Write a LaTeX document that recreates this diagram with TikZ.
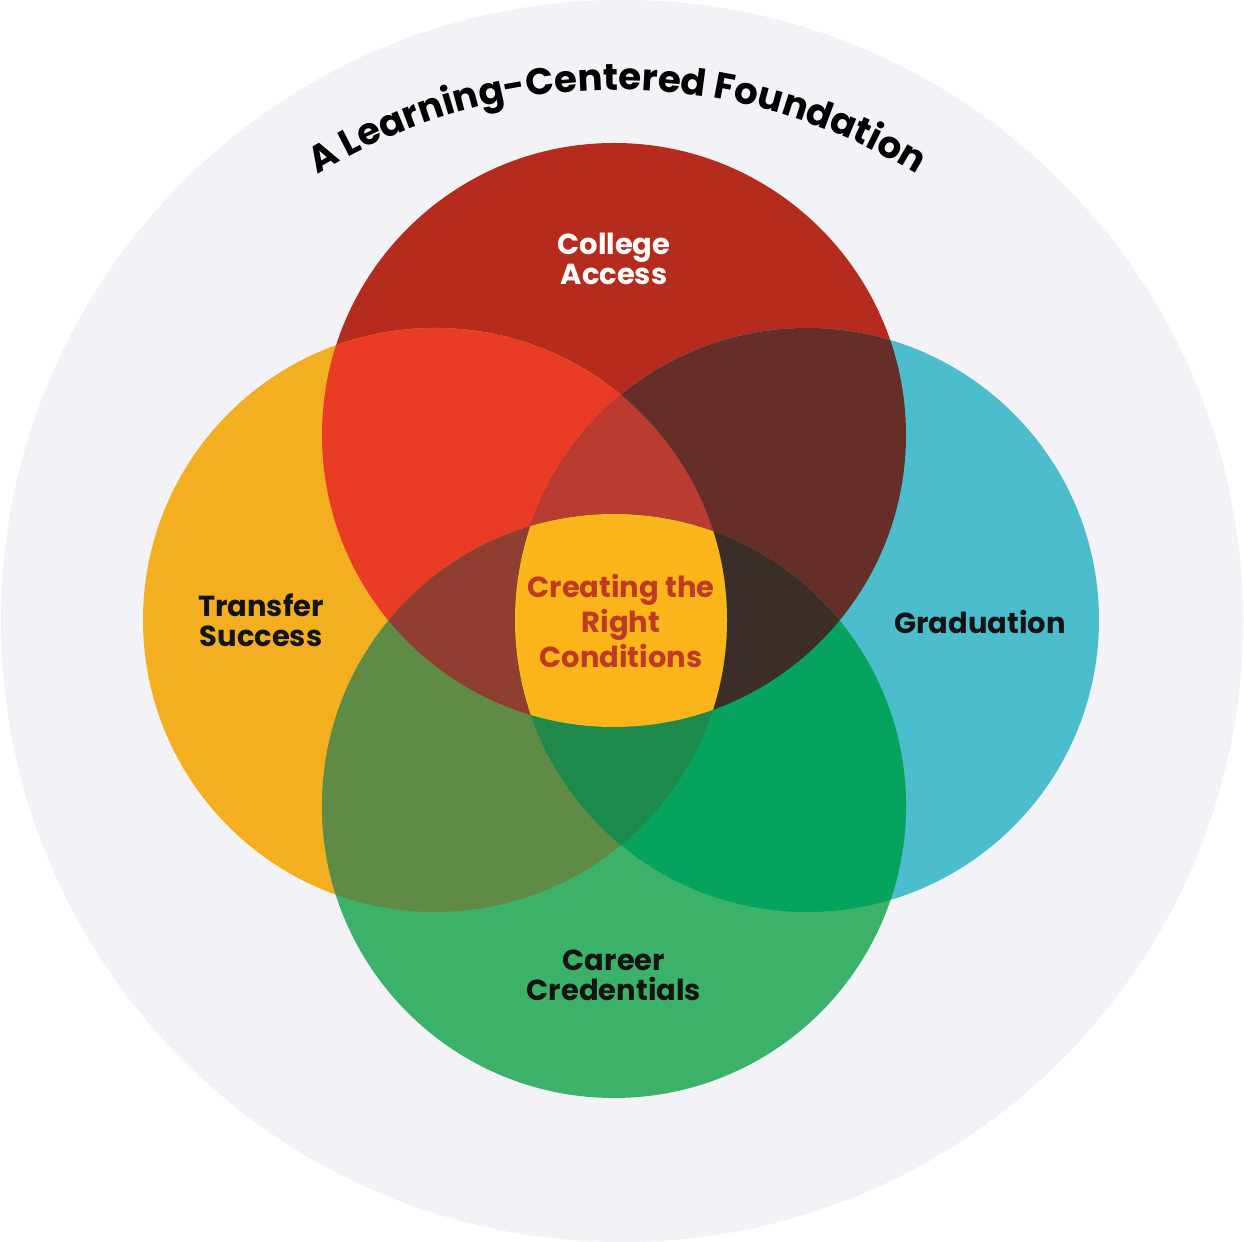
\documentclass[tikz,border=0pt]{standalone}
\usepackage{fontspec}
\setmainfont{Poppins}
\usetikzlibrary{positioning,decorations.text}
\definecolor{bg}{HTML}{F2F2F7}
\definecolor{acc}{HTML}{B52B1E}
\definecolor{trs}{HTML}{F3AF1F}
\definecolor{grd}{HTML}{4BBDCC}
\definecolor{crd}{HTML}{3CB169}
\definecolor{xat}{HTML}{EA3B25}
\definecolor{xag}{HTML}{652E29}
\definecolor{xtc}{HTML}{5F8B45}
\definecolor{xgc}{HTML}{06A35E}
\definecolor{xatg}{HTML}{BA3B30}
\definecolor{xatc}{HTML}{913E32}
\definecolor{xagc}{HTML}{3B2D28}
\definecolor{xtgc}{HTML}{1D8A4B}
\definecolor{core}{HTML}{FAB51A}
\definecolor{coretxt}{HTML}{BE3A22}
\definecolor{ink}{HTML}{141414}
\newcommand{\ring}[2]{
    \fill[fill=#2] (#1) circle[radius=292];
}
\newcommand{\lens}[3]{
    \begin{scope}
        \clip (#1) circle[radius=292];
        \fill[fill=#3] (#2) circle[radius=292];
    \end{scope}
}
\newcommand{\trio}[4]{
    \begin{scope}
        \clip (#1) circle[radius=292];
        \clip (#2) circle[radius=292];
        \fill[fill=#4] (#3) circle[radius=292];
    \end{scope}
}
\tikzset{
    lbl/.style={font=\bfseries\fontsize{14.5}{15}\selectfont, align=center,
    inner sep=0pt, text=ink},
    mid/.style={font=\bfseries\fontsize{14.5}{17.5}\selectfont, align=center,
    inner sep=0pt, text=coretxt}
}

\begin{document}
\begin{tikzpicture}[x=0.5pt,y=0.5pt]
        \useasboundingbox (0,0) rectangle (1244,1242);
        \fill[white] (0,0) rectangle (1244,1242);
        \fill[bg] (622,621) circle[radius=621];

        \coordinate (ca) at (614,807);
        \coordinate (ct) at (435,622);
        \coordinate (cg) at (807,622);
        \coordinate (cc) at (614,436);
        \coordinate (arcc) at (617,580);

        % the four circles
        \ring{ca}{acc}
        \ring{ct}{trs}
        \ring{cg}{grd}
        \ring{cc}{crd}

        % shared parts
        \lens{ca}{ct}{xat}
        \lens{ca}{cg}{xag}
        \lens{ct}{cc}{xtc}
        \lens{cg}{cc}{xgc}
        \trio{ca}{ct}{cg}{xatg}
        \trio{ca}{ct}{cc}{xatc}
        \trio{ca}{cg}{cc}{xagc}
        \trio{ct}{cg}{cc}{xtgc}
        \begin{scope}
            \clip (ca) circle[radius=292];
            \clip (ct) circle[radius=292];
            \clip (cg) circle[radius=292];
            \fill[fill=core] (cc) circle[radius=292];
        \end{scope}

        \path[decorate,decoration={text along path,text align=center,
        text={|\bfseries\fontsize{18.6}{20}\selectfont|A Learning-Centered Foundation}}]
        (arcc) ++(150:572) arc[start angle=150,end angle=30,radius=572];

        \node[lbl,text=white] (access) at (614,983) {College\\Access};
        \node[lbl] (transfer) at (261,622) {Transfer\\Success};
        \node[lbl] (grad) at (980,620) {Graduation};
        \node[lbl] (career) at (614,267) {Career\\Credentials};
        \node[mid] (cond) at (621,621) {Creating the\\Right\\Conditions};
\end{tikzpicture}
\end{document}
